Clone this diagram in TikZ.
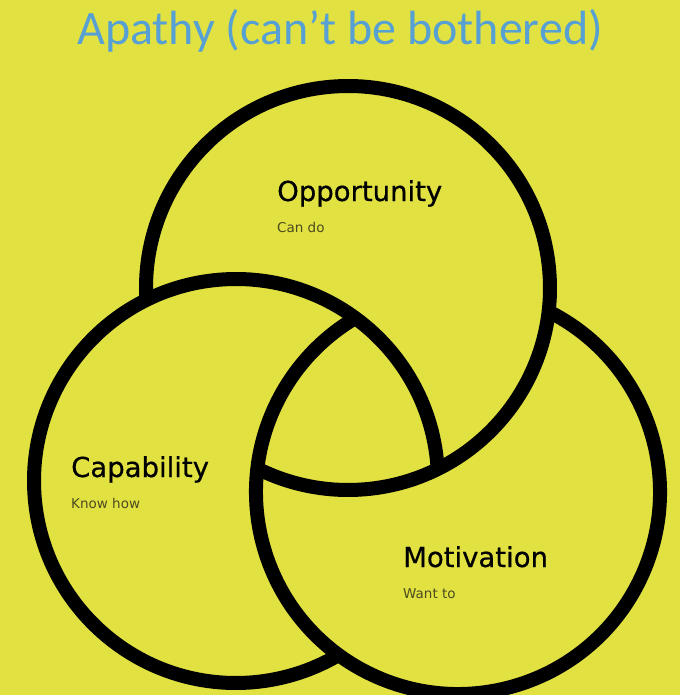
\documentclass[tikz,border=0pt]{standalone}
\usepackage{fontspec}
\newfontfamily\titlefont{Carlito}
\newfontfamily\headfont[FakeBold=0.6]{DejaVu Sans}
\newfontfamily\labelfont{DejaVu Sans}
\usetikzlibrary{positioning}

\definecolor{bgyellow}{RGB}{226,225,66}
\definecolor{titleblue}{RGB}{86,160,211}
\definecolor{subgray}{RGB}{75,75,32}

\tikzset{
  ring/.style={line width=14pt, color=black},
  headlabel/.style={anchor=base west, inner sep=0pt, font=\headfont\fontsize{27.5}{30}\selectfont},
  sublabel/.style={anchor=base west, inner sep=0pt, text=subgray, font=\labelfont\fontsize{13.5}{15}\selectfont}
}

\begin{document}
\begin{tikzpicture}[x=1pt,y=1pt]
\useasboundingbox (0,0) rectangle (680,-695);
\fill[bgyellow] (0,0) rectangle (680,-695);

% title
\node[anchor=base, inner sep=0pt, text=titleblue, font=\titlefont\fontsize{48}{50}\selectfont] (title) at (340,-45) {Apathy (can’t be bothered)};

% centres of the three rings
\coordinate (opp) at (348,-288);
\coordinate (cap) at (236,-481);
\coordinate (mot) at (458,-492);

% each ring stops where it runs under the next one
\draw[ring] (opp) ++(183.4:202) arc[start angle=183.4, end angle=-116.65, radius=202];
\draw[ring] (cap) ++(3.4:202) arc[start angle=3.4, end angle=300.5, radius=202];
\draw[ring] (mot) ++(63.35:202) arc[start angle=63.35, end angle=-239.5, radius=202];

% labels
\node[headlabel] (opportunity) at (277,-201) {Opportunity};
\node[sublabel] (cando) at ([yshift=-31pt]opportunity.base west) {Can do};
\node[headlabel] (capability) at (71,-477) {Capability};
\node[sublabel] (knowhow) at ([yshift=-31pt]capability.base west) {Know how};
\node[headlabel] (motivation) at (403,-567) {Motivation};
\node[sublabel] (wantto) at ([yshift=-31pt]motivation.base west) {Want to};
\end{tikzpicture}
\end{document}
